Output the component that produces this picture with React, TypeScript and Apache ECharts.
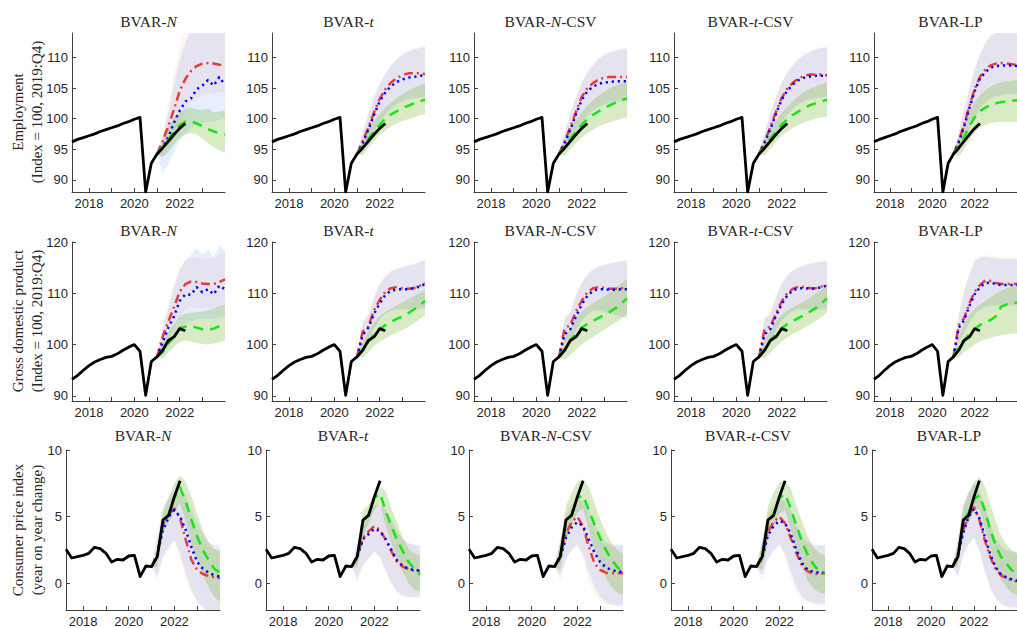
import React, { useEffect, useRef } from "react";
import * as echarts from "echarts";

// ---------- time axes ----------
const histT = [2017.25, 2017.5, 2017.75, 2018.0, 2018.25, 2018.5, 2018.75, 2019.0, 2019.25, 2019.5, 2019.75, 2020.0, 2020.25, 2020.5, 2020.75, 2021.0, 2021.25, 2021.5, 2021.75, 2022.0, 2022.25];
const fcT = [2021.0, 2021.25, 2021.5, 2021.75, 2022.0, 2022.25, 2022.5, 2022.75, 2023.0, 2023.25, 2023.5, 2023.75, 2024.0];

const modelTitles = ["N", "t", "N-CSV", "t-CSV", "LP"];
const rowLabels = ["Employment\n(Index = 100, 2019:Q4)", "Gross domestic product\n(Index = 100, 2019:Q4)", "Consumer price index\n(year on year change)"];
const xTicks = [2018, 2019, 2020, 2021, 2022, 2023];
const xTickLabels = [2018, 2020, 2022];
const yTicksEmp = [90, 95, 100, 105, 110];
const yTicksGdp = [90, 100, 110, 120];
const yTicksCpi = [0, 5, 10];

// ---------- actual data ----------
const empActual = [96.2, 96.6, 96.9, 97.2, 97.5, 97.9, 98.2, 98.5, 98.8, 99.2, 99.5, 99.9, 100.2, 88.0, 92.7, 94.2, 95.2, 96.3, 97.4, 98.4, 99.2];
const gdpActual = [93.2, 94.0, 95.0, 95.9, 96.6, 97.1, 97.5, 97.7, 98.2, 98.9, 99.5, 100.0, 98.7, 90.1, 96.7, 97.6, 98.9, 100.8, 101.5, 103.1, 102.7];
const cpiActual = [2.55, 1.9, 2.0, 2.1, 2.25, 2.7, 2.6, 2.25, 1.6, 1.8, 1.75, 2.05, 2.1, 0.5, 1.3, 1.25, 2.0, 4.75, 5.1, 6.5, 7.7];

// ---------- Employment forecasts ----------
const empN = {
  red: [94.2, 96.3, 98.8, 101.5, 104.5, 106.5, 107.8, 108.6, 109.0, 109.1, 109.0, 108.8, 108.7],
  redLo: [94.2, 93.5, 95.0, 97.0, 99.0, 101.0, 102.5, 103.3, 103.8, 104.0, 104.2, 104.3, 104.3],
  redHi: [94.2, 97.5, 102.5, 107.5, 111.5, 114.5, 116.0, 116.5, 116.5, 116.5, 116.5, 116.5, 116.5],
  blue: [94.2, 95.2, 97.0, 99.3, 101.3, 102.8, 103.3, 104.8, 105.4, 106.3, 105.4, 106.8, 105.5],
  blueLo: [94.2, 91.0, 92.5, 94.5, 96.5, 97.5, 98.5, 99.0, 99.3, 99.5, 99.5, 99.8, 100.0],
  blueHi: [94.2, 97.0, 101.0, 105.5, 109.5, 112.5, 114.5, 116.0, 117.0, 118.0, 117.0, 118.0, 117.0],
  green: [94.2, 95.3, 96.6, 97.8, 98.9, 99.5, 99.6, 99.2, 98.8, 98.3, 97.9, 97.6, 97.4],
  greenLo: [94.2, 93.8, 94.5, 95.8, 96.8, 97.5, 97.6, 97.4, 96.8, 96.0, 95.3, 94.8, 94.4],
  greenHi: [94.2, 96.5, 98.5, 100.3, 101.0, 101.5, 101.8, 101.5, 101.4, 101.6, 101.0, 101.2, 101.3],
};
const empT = {
  red: [94.2, 96.3, 98.5, 101.0, 103.2, 104.8, 105.9, 106.6, 107.1, 107.4, 107.4, 107.4, 107.3],
  redLo: [94.2, 94.8, 96.2, 97.8, 99.5, 100.8, 101.8, 102.5, 103.0, 103.3, 103.5, 103.6, 103.6],
  redHi: [94.2, 97.8, 100.8, 103.5, 105.8, 107.5, 108.8, 109.8, 110.6, 111.1, 111.5, 111.7, 111.9],
  blue: [94.2, 96.0, 98.2, 100.6, 102.8, 104.3, 105.3, 106.0, 106.4, 106.7, 106.8, 107.0, 107.1],
  blueLo: [94.2, 94.6, 96.0, 97.6, 99.3, 100.6, 101.6, 102.3, 102.8, 103.1, 103.3, 103.4, 103.4],
  blueHi: [94.2, 97.6, 100.6, 103.3, 105.6, 107.3, 108.6, 109.6, 110.4, 110.9, 111.3, 111.5, 111.7],
  green: [94.2, 95.4, 96.7, 97.9, 99.0, 100.0, 100.7, 101.2, 101.7, 102.1, 102.5, 102.8, 103.1],
  greenLo: [94.2, 94.0, 95.2, 96.3, 97.3, 98.0, 98.7, 99.2, 99.6, 99.9, 100.2, 100.5, 100.7],
  greenHi: [94.2, 96.7, 98.3, 99.6, 100.7, 101.8, 102.6, 103.4, 104.0, 104.6, 105.0, 105.4, 105.7],
};
const empNCSV = {
  red: [94.2, 96.3, 98.6, 101.1, 103.5, 105.0, 105.8, 106.4, 106.7, 106.8, 106.8, 106.8, 106.8],
  redLo: [94.2, 94.8, 96.2, 97.8, 99.5, 100.8, 101.6, 102.2, 102.6, 102.9, 103.1, 103.2, 103.3],
  redHi: [94.2, 97.8, 100.9, 103.7, 106.0, 107.8, 109.0, 110.0, 110.7, 111.1, 111.4, 111.5, 111.6],
  blue: [94.2, 96.0, 98.2, 100.7, 103.0, 104.5, 105.2, 105.7, 105.9, 106.0, 106.1, 106.1, 106.1],
  blueLo: [94.2, 94.6, 96.0, 97.6, 99.2, 100.4, 101.2, 101.8, 102.2, 102.5, 102.7, 102.8, 102.9],
  blueHi: [94.2, 97.6, 100.7, 103.5, 105.8, 107.5, 108.7, 109.7, 110.4, 110.8, 111.1, 111.3, 111.4],
  green: [94.2, 95.4, 96.7, 97.9, 99.0, 99.9, 100.6, 101.2, 101.7, 102.2, 102.6, 103.0, 103.3],
  greenLo: [94.2, 93.9, 95.0, 96.0, 96.9, 97.6, 98.2, 98.7, 99.1, 99.4, 99.7, 100.0, 100.2],
  greenHi: [94.2, 96.8, 98.4, 99.8, 101.0, 102.1, 103.0, 103.8, 104.4, 105.0, 105.4, 105.8, 106.0],
};
const empTCSV = {
  red: [94.2, 96.3, 98.6, 101.1, 103.4, 104.9, 105.9, 106.6, 107.0, 107.2, 107.2, 107.2, 107.1],
  redLo: [94.2, 94.8, 96.2, 97.8, 99.5, 100.8, 101.8, 102.5, 103.0, 103.3, 103.5, 103.6, 103.6],
  redHi: [94.2, 97.8, 100.9, 103.7, 106.0, 107.7, 108.9, 109.9, 110.6, 111.1, 111.5, 111.7, 111.8],
  blue: [94.2, 96.1, 98.3, 100.8, 103.1, 104.6, 105.6, 106.3, 106.7, 106.9, 107.0, 107.0, 107.0],
  blueLo: [94.2, 94.6, 96.0, 97.6, 99.3, 100.6, 101.6, 102.3, 102.8, 103.1, 103.3, 103.4, 103.4],
  blueHi: [94.2, 97.6, 100.7, 103.5, 105.8, 107.5, 108.7, 109.7, 110.4, 110.9, 111.3, 111.5, 111.6],
  green: [94.2, 95.4, 96.7, 97.9, 99.0, 99.9, 100.6, 101.2, 101.7, 102.2, 102.5, 102.8, 103.1],
  greenLo: [94.2, 94.0, 95.1, 96.2, 97.2, 97.9, 98.5, 99.0, 99.4, 99.7, 100.0, 100.2, 100.4],
  greenHi: [94.2, 96.7, 98.3, 99.7, 100.9, 102.0, 102.9, 103.7, 104.4, 104.9, 105.3, 105.6, 105.9],
};
const empLP = {
  red: [94.2, 96.3, 99.0, 102.0, 104.8, 106.8, 108.0, 108.7, 109.0, 109.1, 109.0, 108.9, 108.8],
  redLo: [94.2, 94.6, 96.3, 98.3, 100.3, 101.8, 102.8, 103.4, 103.8, 104.0, 104.1, 104.2, 104.2],
  redHi: [94.2, 98.0, 101.5, 105.0, 108.3, 110.7, 112.5, 113.7, 114.3, 114.6, 114.7, 114.7, 114.7],
  blue: [94.2, 96.1, 98.7, 101.7, 104.5, 106.5, 107.6, 108.3, 108.6, 108.7, 108.7, 108.7, 108.6],
  blueLo: [94.2, 94.4, 96.1, 98.1, 100.1, 101.6, 102.6, 103.2, 103.6, 103.8, 103.9, 104.0, 104.0],
  blueHi: [94.2, 97.8, 101.3, 104.8, 108.0, 110.4, 112.2, 113.4, 114.0, 114.3, 114.4, 114.4, 114.4],
  green: [94.2, 95.5, 97.0, 98.7, 100.2, 101.2, 101.8, 102.2, 102.5, 102.7, 102.8, 102.9, 103.0],
  greenLo: [94.2, 93.8, 95.0, 96.5, 97.7, 98.5, 99.0, 99.3, 99.4, 99.5, 99.5, 99.5, 99.5],
  greenHi: [94.2, 97.0, 99.0, 101.0, 102.7, 103.8, 104.6, 105.2, 105.6, 105.9, 106.1, 106.2, 106.3],
};

// ---------- GDP forecasts ----------
const gdpN = {
  red: [97.6, 101.5, 104.5, 107.3, 110.3, 111.8, 112.3, 112.2, 111.9, 111.8, 111.8, 112.2, 112.7],
  redLo: [97.6, 99.0, 101.5, 103.5, 105.5, 106.8, 107.2, 107.3, 107.1, 107.0, 107.0, 107.2, 107.5],
  redHi: [97.6, 104.0, 108.0, 112.0, 115.0, 116.5, 117.0, 117.0, 116.8, 116.8, 117.0, 117.5, 118.0],
  blue: [97.6, 100.5, 103.3, 105.5, 108.5, 109.8, 109.7, 111.2, 110.2, 110.8, 109.8, 111.5, 110.8],
  blueLo: [97.6, 98.2, 99.5, 101.5, 103.0, 104.0, 104.5, 105.0, 105.0, 105.0, 105.0, 105.3, 105.5],
  blueHi: [97.6, 103.0, 107.0, 111.0, 114.5, 116.5, 117.5, 118.8, 117.5, 118.5, 117.0, 119.2, 118.3],
  green: [97.6, 98.5, 100.2, 101.5, 103.2, 103.5, 103.6, 103.3, 103.0, 102.9, 103.1, 103.6, 104.2],
  greenLo: [97.6, 97.2, 98.5, 99.5, 100.5, 100.8, 100.6, 100.3, 100.1, 100.0, 100.2, 100.5, 100.8],
  greenHi: [97.6, 100.5, 102.5, 104.0, 105.5, 106.0, 106.2, 106.3, 106.5, 106.7, 107.0, 107.4, 107.8],
};
const gdpT = {
  red: [97.6, 102.5, 103.5, 106.7, 108.7, 110.3, 111.0, 111.2, 111.0, 110.9, 111.0, 111.4, 112.0],
  redLo: [97.6, 100.0, 101.0, 103.5, 105.0, 106.2, 106.8, 107.0, 107.0, 106.9, 106.9, 107.0, 107.3],
  redHi: [97.6, 104.5, 106.0, 109.5, 112.0, 113.5, 114.5, 115.0, 115.2, 115.5, 115.8, 116.2, 116.6],
  blue: [97.6, 101.8, 103.3, 106.0, 108.0, 109.7, 110.5, 110.7, 110.8, 110.8, 111.0, 111.3, 111.8],
  blueLo: [97.6, 99.6, 100.8, 103.2, 104.7, 106.0, 106.6, 106.8, 106.8, 106.8, 106.8, 106.9, 107.1],
  blueHi: [97.6, 104.2, 105.8, 109.2, 111.7, 113.2, 114.2, 114.7, 115.0, 115.3, 115.6, 116.0, 116.4],
  green: [97.6, 99.0, 100.5, 102.0, 103.0, 103.8, 104.4, 105.0, 105.5, 106.1, 106.8, 107.6, 108.5],
  greenLo: [97.6, 97.5, 98.5, 99.7, 100.5, 101.2, 101.8, 102.3, 102.8, 103.4, 104.1, 104.9, 105.7],
  greenHi: [97.6, 100.5, 102.5, 104.3, 105.5, 106.4, 107.0, 107.6, 108.2, 108.8, 109.4, 110.0, 110.7],
};
const gdpNCSV = {
  red: [97.6, 103.2, 103.8, 106.5, 108.5, 110.2, 111.0, 111.2, 111.0, 110.9, 110.9, 111.0, 111.0],
  redLo: [97.6, 100.5, 101.0, 103.0, 104.8, 106.0, 106.7, 106.8, 106.5, 106.2, 105.9, 105.6, 105.3],
  redHi: [97.6, 105.5, 106.5, 109.8, 112.2, 113.8, 114.8, 115.3, 115.6, 115.9, 116.1, 116.3, 116.5],
  blue: [97.6, 102.0, 103.0, 105.5, 107.8, 109.5, 110.5, 110.8, 110.8, 110.7, 110.7, 110.8, 110.8],
  blueLo: [97.6, 99.8, 100.6, 102.7, 104.5, 105.8, 106.5, 106.6, 106.3, 106.0, 105.7, 105.4, 105.1],
  blueHi: [97.6, 105.0, 106.2, 109.5, 112.0, 113.6, 114.6, 115.2, 115.5, 115.8, 116.0, 116.2, 116.4],
  green: [97.6, 99.2, 100.8, 102.2, 103.3, 104.0, 104.6, 105.2, 105.8, 106.4, 107.1, 108.0, 109.0],
  greenLo: [97.6, 97.0, 98.0, 99.0, 100.0, 100.8, 101.5, 102.2, 102.9, 103.6, 104.3, 105.1, 105.9],
  greenHi: [97.6, 101.0, 103.3, 105.2, 106.5, 107.3, 108.0, 108.7, 109.4, 110.2, 111.0, 111.9, 112.8],
};
const gdpTCSV = {
  red: [97.6, 103.1, 103.5, 106.1, 108.4, 110.0, 110.9, 111.3, 111.2, 111.0, 111.0, 111.3, 111.6],
  redLo: [97.6, 100.3, 100.8, 103.0, 104.8, 106.0, 106.7, 107.0, 107.0, 106.9, 106.9, 107.0, 107.2],
  redHi: [97.6, 105.4, 106.2, 109.5, 112.0, 113.6, 114.6, 115.2, 115.6, 115.9, 116.1, 116.3, 116.5],
  blue: [97.6, 102.0, 103.0, 105.6, 107.9, 109.6, 110.6, 111.0, 111.0, 110.9, 110.9, 111.2, 111.5],
  blueLo: [97.6, 99.8, 100.6, 102.8, 104.6, 105.8, 106.5, 106.8, 106.8, 106.7, 106.7, 106.8, 107.0],
  blueHi: [97.6, 105.0, 106.0, 109.3, 111.8, 113.4, 114.4, 115.0, 115.4, 115.7, 115.9, 116.1, 116.3],
  green: [97.6, 99.2, 100.7, 102.1, 103.2, 104.0, 104.6, 105.2, 105.8, 106.4, 107.1, 108.0, 109.0],
  greenLo: [97.6, 97.3, 98.4, 99.6, 100.6, 101.4, 102.1, 102.7, 103.3, 103.9, 104.6, 105.4, 106.2],
  greenHi: [97.6, 100.8, 102.8, 104.5, 105.8, 106.6, 107.3, 107.9, 108.5, 109.2, 109.9, 110.7, 111.5],
};
const gdpLP = {
  red: [97.6, 103.8, 105.1, 108.0, 110.3, 111.6, 112.5, 112.4, 112.0, 111.8, 111.8, 111.8, 111.8],
  redLo: [97.6, 100.8, 102.5, 104.5, 106.0, 107.0, 107.6, 107.8, 107.8, 107.8, 107.8, 107.8, 107.8],
  redHi: [97.6, 106.0, 110.5, 114.0, 116.5, 117.2, 117.4, 117.3, 117.1, 117.0, 117.0, 117.0, 117.0],
  blue: [97.6, 103.3, 104.7, 107.5, 109.8, 111.2, 112.0, 112.1, 111.8, 111.6, 111.6, 111.6, 111.6],
  blueLo: [97.6, 100.5, 102.2, 104.2, 105.7, 106.7, 107.3, 107.5, 107.5, 107.5, 107.5, 107.5, 107.5],
  blueHi: [97.6, 105.7, 110.2, 113.7, 116.2, 116.9, 117.1, 117.0, 116.8, 116.7, 116.7, 116.7, 116.7],
  green: [97.6, 99.5, 100.8, 102.0, 103.0, 103.8, 104.3, 104.8, 105.5, 107.4, 107.8, 108.0, 108.2],
  greenLo: [97.6, 97.5, 98.5, 99.3, 100.0, 100.6, 101.0, 101.3, 101.6, 101.8, 102.0, 102.1, 102.2],
  greenHi: [97.6, 101.5, 104.0, 105.8, 107.0, 107.8, 108.5, 109.2, 109.9, 110.5, 111.0, 111.3, 111.5],
};

// ---------- CPI forecasts ----------
const cpiN = {
  red: [1.25, 2.25, 4.4, 5.2, 5.6, 4.9, 3.25, 1.75, 1.0, 0.7, 0.55, 0.45, 0.4],
  redLo: [1.25, 0.0, 2.0, 2.8, 3.3, 2.0, 0.3, -0.8, -1.5, -1.9, -2.1, -2.2, -2.3],
  redHi: [1.25, 3.2, 5.5, 6.3, 6.8, 6.6, 6.0, 5.0, 4.0, 3.3, 2.8, 2.6, 2.5],
  blue: [1.25, 2.1, 4.0, 5.0, 5.5, 5.0, 4.0, 2.7, 1.6, 1.1, 0.8, 0.6, 0.5],
  blueLo: [1.25, 0.6, 2.0, 2.6, 3.2, 2.2, 0.7, -0.5, -1.3, -1.8, -2.1, -2.2, -2.2],
  blueHi: [1.25, 3.5, 5.8, 6.5, 7.0, 7.0, 6.6, 5.6, 4.6, 3.7, 3.1, 2.9, 2.8],
  green: [1.25, 2.0, 4.6, 5.2, 6.4, 7.2, 6.1, 4.75, 3.5, 2.5, 1.75, 1.1, 0.8],
  greenLo: [1.25, 1.2, 3.8, 4.5, 5.4, 6.0, 4.6, 3.0, 1.7, 0.6, -0.3, -1.0, -1.4],
  greenHi: [1.25, 2.5, 5.3, 6.4, 7.5, 8.1, 7.6, 6.5, 5.2, 4.0, 3.1, 2.6, 2.4],
};
const cpiT = {
  red: [1.25, 2.1, 3.4, 3.9, 4.3, 4.0, 3.25, 2.4, 1.6, 1.25, 1.05, 0.95, 0.9],
  redLo: [1.25, 0.0, 1.2, 1.8, 2.3, 1.8, 0.8, -0.2, -0.8, -1.0, -1.1, -1.1, -1.1],
  redHi: [1.25, 3.0, 4.8, 5.5, 6.0, 6.0, 5.5, 4.7, 3.9, 3.3, 3.0, 2.9, 2.9],
  blue: [1.25, 2.0, 3.3, 3.7, 4.1, 3.9, 3.3, 2.5, 1.7, 1.3, 1.1, 1.0, 0.95],
  blueLo: [1.25, 0.4, 1.4, 1.9, 2.4, 2.0, 1.0, 0.0, -0.6, -0.9, -1.0, -1.0, -1.0],
  blueHi: [1.25, 3.0, 4.7, 5.4, 5.9, 5.9, 5.5, 4.7, 3.9, 3.3, 3.0, 2.9, 2.8],
  green: [1.25, 1.9, 4.6, 5.2, 6.4, 6.75, 5.4, 4.25, 3.25, 2.4, 1.6, 1.1, 0.65],
  greenLo: [1.25, 1.2, 3.5, 4.5, 5.5, 6.0, 4.3, 3.0, 1.8, 0.8, 0.0, -0.5, -0.6],
  greenHi: [1.25, 2.5, 5.5, 5.9, 6.6, 7.25, 6.9, 5.6, 4.5, 3.4, 2.6, 2.25, 2.1],
};
const cpiNCSV = {
  red: [1.25, 2.1, 3.75, 4.6, 5.0, 4.25, 2.75, 1.5, 1.0, 0.8, 0.75, 0.75, 0.75],
  redLo: [1.25, 0.2, 1.8, 2.5, 3.0, 1.8, 0.2, -0.8, -1.3, -1.5, -1.6, -1.6, -1.6],
  redHi: [1.25, 3.3, 5.2, 6.0, 6.4, 6.0, 5.0, 3.9, 3.2, 2.9, 2.8, 2.8, 2.8],
  blue: [1.25, 1.9, 3.4, 4.2, 4.6, 4.3, 3.3, 2.3, 1.6, 1.2, 1.0, 0.9, 0.85],
  blueLo: [1.25, 0.6, 1.8, 2.5, 2.9, 2.2, 0.9, -0.3, -1.0, -1.4, -1.6, -1.7, -1.7],
  blueHi: [1.25, 3.3, 5.0, 5.8, 6.3, 6.2, 5.5, 4.5, 3.6, 3.1, 2.9, 2.9, 2.9],
  green: [1.25, 1.9, 4.6, 5.2, 6.4, 6.6, 5.5, 4.4, 3.4, 2.5, 1.8, 1.2, 0.85],
  greenLo: [1.25, 1.0, 3.3, 4.3, 5.3, 5.6, 4.0, 2.5, 1.3, 0.4, -0.3, -0.7, -0.9],
  greenHi: [1.25, 3.0, 5.8, 6.8, 7.6, 7.8, 7.2, 6.0, 4.8, 3.8, 3.0, 2.5, 2.2],
};
const cpiTCSV = {
  red: [1.25, 2.1, 3.9, 4.6, 5.0, 4.5, 3.4, 2.25, 1.25, 0.9, 0.7, 0.7, 0.75],
  redLo: [1.25, 0.2, 1.9, 2.5, 3.0, 2.0, 0.4, -0.7, -1.2, -1.4, -1.5, -1.5, -1.5],
  redHi: [1.25, 3.3, 5.3, 6.0, 6.4, 6.1, 5.2, 4.0, 3.2, 2.9, 2.8, 2.8, 2.8],
  blue: [1.25, 1.9, 3.6, 4.3, 4.7, 4.5, 3.7, 2.5, 1.5, 1.0, 0.85, 0.8, 0.8],
  blueLo: [1.25, 0.6, 1.8, 2.4, 2.9, 2.2, 0.9, -0.3, -1.0, -1.3, -1.5, -1.6, -1.6],
  blueHi: [1.25, 3.3, 5.1, 5.8, 6.3, 6.2, 5.5, 4.5, 3.6, 3.1, 2.9, 2.9, 2.9],
  green: [1.25, 1.9, 4.6, 5.2, 6.4, 6.7, 5.6, 4.3, 3.1, 2.1, 1.4, 0.9, 0.75],
  greenLo: [1.25, 1.0, 3.3, 4.3, 5.2, 5.5, 4.0, 2.4, 1.2, 0.2, -0.4, -0.7, -0.8],
  greenHi: [1.25, 3.0, 5.8, 6.8, 7.6, 7.7, 7.1, 5.8, 4.6, 3.5, 2.7, 2.3, 2.1],
};
const cpiLP = {
  red: [1.25, 2.25, 4.0, 5.1, 5.7, 4.75, 3.25, 2.0, 1.1, 0.6, 0.4, 0.25, 0.15],
  redLo: [1.25, 0.4, 2.2, 3.0, 3.5, 2.4, 0.8, -0.4, -1.2, -1.6, -1.8, -1.9, -1.9],
  redHi: [1.25, 3.5, 5.8, 6.9, 7.5, 7.0, 5.7, 4.4, 3.3, 2.7, 2.4, 2.3, 2.2],
  blue: [1.25, 2.1, 3.8, 5.0, 5.6, 4.9, 3.5, 2.2, 1.2, 0.7, 0.45, 0.3, 0.2],
  blueLo: [1.25, 0.5, 2.1, 2.9, 3.4, 2.5, 0.9, -0.3, -1.1, -1.5, -1.7, -1.8, -1.8],
  blueHi: [1.25, 3.4, 5.7, 6.8, 7.4, 7.0, 5.8, 4.5, 3.4, 2.8, 2.5, 2.4, 2.3],
  green: [1.25, 2.0, 4.7, 5.3, 6.3, 6.6, 5.5, 4.0, 2.9, 2.0, 1.5, 1.0, 0.8],
  greenLo: [1.25, 1.2, 3.8, 4.6, 5.4, 5.6, 4.1, 2.6, 1.3, 0.3, -0.3, -0.7, -0.9],
  greenHi: [1.25, 2.8, 5.8, 6.8, 7.6, 8.0, 7.3, 6.0, 4.7, 3.6, 2.9, 2.5, 2.3],
};

// ---------- layout / style ----------
const rowTop = [33, 242, 450];
const rowHeight = [159, 159, 160];
const rowLefts = [
  [72, 272, 474, 674, 874],
  [72, 272, 474, 674, 874],
  [66, 266, 469, 671, 872],
];
const rowWidth = [153, 153, 154];
const titleY = [21, 230, 435];
const rowLabelY = [112, 321, 530];

const SANS = "Liberation Sans, Arial, Helvetica, sans-serif";
const SERIF = "Liberation Serif, Times New Roman, DejaVu Serif, serif";
const AXIS_COLOR = "#404040";
const LABEL_COLOR = "#262626";

const RED = "#e8393e";
const BLUE = "#0000ff";
const GREEN = "#14e614";
const RED_BAND = "rgba(240,150,120,0.11)";
const BLUE_BAND = "rgba(70,120,240,0.13)";
const GREEN_BAND = "rgba(110,180,40,0.27)";

// title pieces: [text, italic]
function titleParts(name: string): [string, boolean][] {
  if (name === "N") return [["BVAR-", false], ["N", true]];
  if (name === "t") return [["BVAR-", false], ["t", true]];
  if (name === "N-CSV") return [["BVAR-", false], ["N", true], ["-CSV", false]];
  if (name === "t-CSV") return [["BVAR-", false], ["t", true], ["-CSV", false]];
  return [["BVAR-LP", false]];
}

const measureCanvas = typeof document !== "undefined" ? document.createElement("canvas") : null;
function textWidth(text: string, italic: boolean, size: number) {
  if (!measureCanvas) return text.length * size * 0.55;
  const ctx = measureCanvas.getContext("2d")!;
  ctx.font = `${italic ? "italic " : ""}normal ${size}px ${SERIF}`;
  return ctx.measureText(text).width;
}

function bandSeries(idx: number, xs: number[], lo: number[], hi: number[], color: string) {
  return {
    type: "custom",
    xAxisIndex: idx,
    yAxisIndex: idx,
    clip: true,
    silent: true,
    data: xs.map((x, i) => [x, lo[i], hi[i]]),
    encode: { x: 0, y: [1, 2] },
    renderItem: (params: any, api: any) => {
      if (params.dataIndex !== 0) return null;
      const pts: number[][] = [];
      for (let i = 0; i < xs.length; i++) pts.push(api.coord([xs[i], hi[i]]));
      for (let i = xs.length - 1; i >= 0; i--) pts.push(api.coord([xs[i], lo[i]]));
      return { type: "polygon", shape: { points: pts }, style: { fill: color, stroke: null } };
    },
  };
}

function lineSeries(idx: number, xs: number[], ys: number[], color: string, width: number, type: any) {
  return {
    type: "line",
    xAxisIndex: idx,
    yAxisIndex: idx,
    data: xs.map((x, i) => [x, ys[i]]),
    showSymbol: false,
    symbol: "none",
    silent: true,
    clip: true,
    lineStyle: { color, width, type, cap: "butt", join: "round" },
  };
}

function buildOption() {
  const panels = [
    [empN, empT, empNCSV, empTCSV, empLP],
    [gdpN, gdpT, gdpNCSV, gdpTCSV, gdpLP],
    [cpiN, cpiT, cpiNCSV, cpiTCSV, cpiLP],
  ];
  const actuals = [empActual, gdpActual, cpiActual];
  const yRanges = [
    [88, 114],
    [89, 120],
    [-2, 10],
  ];
  const yTicks = [yTicksEmp, yTicksGdp, yTicksCpi];

  const grid: any[] = [];
  const xAxis: any[] = [];
  const yAxis: any[] = [];
  const series: any[] = [];
  const graphic: any[] = [];
  const TITLE_SIZE = 15.5;

  for (let r = 0; r < 3; r++) {
    for (let c = 0; c < 5; c++) {
      const idx = r * 5 + c;
      const left = rowLefts[r][c];
      grid.push({ left, top: rowTop[r], width: rowWidth[r], height: rowHeight[r], containLabel: false });
      xAxis.push({
        type: "value",
        gridIndex: idx,
        min: 2017.25,
        max: 2024,
        axisLine: { show: true, onZero: false, lineStyle: { color: AXIS_COLOR, width: 1 } },
        axisTick: { show: true, inside: true, length: 4, lineStyle: { color: AXIS_COLOR }, customValues: xTicks },
        axisLabel: {
          show: true,
          customValues: xTickLabels,
          color: LABEL_COLOR,
          fontFamily: SANS,
          fontSize: 13,
          fontWeight: "normal",
          margin: 5,
          formatter: (v: number) => String(Math.round(v)),
        },
        splitLine: { show: false },
      });
      yAxis.push({
        type: "value",
        gridIndex: idx,
        min: yRanges[r][0],
        max: yRanges[r][1],
        axisLine: { show: true, onZero: false, lineStyle: { color: AXIS_COLOR, width: 1 } },
        axisTick: { show: true, inside: true, length: 4, lineStyle: { color: AXIS_COLOR }, customValues: yTicks[r] },
        axisLabel: {
          show: true,
          customValues: yTicks[r],
          color: LABEL_COLOR,
          fontFamily: SANS,
          fontSize: 13,
          fontWeight: "normal",
          margin: 4,
        },
        splitLine: { show: false },
      });

      const p = panels[r][c];
      series.push(bandSeries(idx, fcT, p.redLo, p.redHi, RED_BAND));
      series.push(bandSeries(idx, fcT, p.blueLo, p.blueHi, BLUE_BAND));
      series.push(bandSeries(idx, fcT, p.greenLo, p.greenHi, GREEN_BAND));
      series.push(lineSeries(idx, fcT, p.red, RED, 2.5, [9, 4, 2, 4]));
      series.push(lineSeries(idx, fcT, p.blue, BLUE, 2.5, [2.2, 3.8]));
      series.push(lineSeries(idx, fcT, p.green, GREEN, 2.5, [10, 7]));
      series.push(lineSeries(idx, histT, actuals[r], "#000000", 2.8, "solid"));

      // title built from plain text pieces (italic where needed)
      const parts = titleParts(modelTitles[c]);
      const widths = parts.map(([t, it]) => textWidth(t, it, TITLE_SIZE));
      const total = widths.reduce((a, b) => a + b, 0);
      let x0 = left + rowWidth[r] / 2 - total / 2;
      parts.forEach(([t, it], k) => {
        graphic.push({
          type: "text",
          x: x0,
          y: titleY[r],
          silent: true,
          style: {
            text: t,
            align: "left",
            verticalAlign: "middle",
            fontFamily: SERIF,
            fontSize: TITLE_SIZE,
            fontWeight: "normal",
            fontStyle: it ? "italic" : "normal",
            fill: "#262626",
          },
        });
        x0 += widths[k];
      });
    }
    graphic.push({
      type: "text",
      x: 27,
      y: rowLabelY[r],
      rotation: Math.PI / 2,
      silent: true,
      style: {
        text: rowLabels[r],
        align: "center",
        verticalAlign: "middle",
        fontFamily: SERIF,
        fontWeight: "normal",
        fontSize: 15,
        lineHeight: 19,
        fill: "#262626",
      },
    });
  }

  return {
    animation: false,
    backgroundColor: "#ffffff",
    grid,
    xAxis,
    yAxis,
    series,
    graphic,
  };
}

export default function App() {
  const ref = useRef<HTMLDivElement>(null);
  useEffect(() => {
    if (!ref.current) return;
    const chart = echarts.init(ref.current, undefined, { renderer: "svg" });
    chart.setOption(buildOption() as any);
    return () => chart.dispose();
  }, []);
  return (
    <div
      ref={ref}
      style={{ position: "fixed", left: 0, top: 0, width: 1017, height: 628, background: "#fff" }}
    />
  );
}
